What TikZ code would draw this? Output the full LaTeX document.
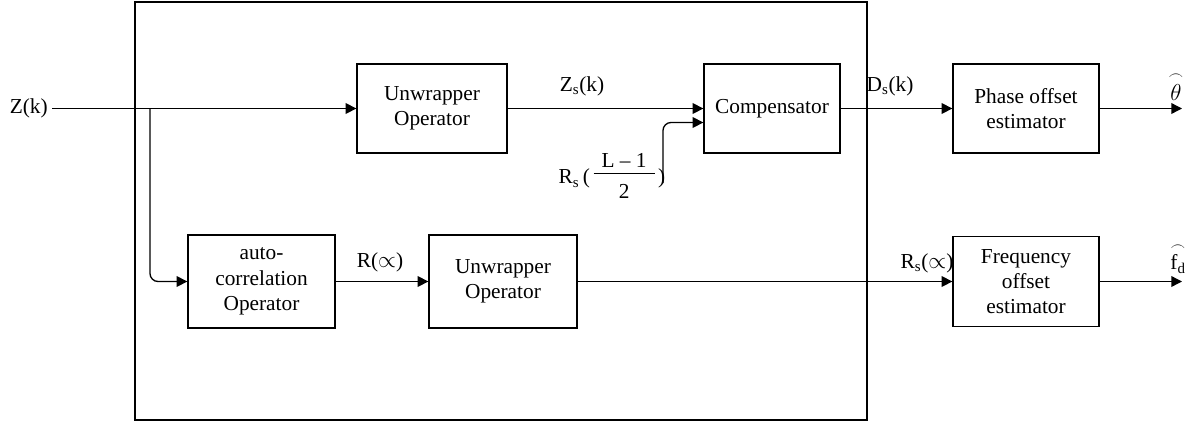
\documentclass[tikz,border=0pt]{standalone}
\usepackage{fontspec}
\setmainfont{Liberation Serif}
\usepackage{amsmath}
\usetikzlibrary{arrows.meta}
\begin{document}
\begin{tikzpicture}[x=0.75pt,y=-0.75pt,
  txt/.style={font=\fontsize{16}{19}\selectfont},
  blk/.style={draw, line width=1pt, align=center, txt, inner sep=2pt},
  lbl/.style={txt, inner sep=0pt},
  ln/.style={line width=1pt},
  arr/.style={line width=1pt, -{Triangle[length=8pt,width=8pt]}}]
\useasboundingbox (0,0) rectangle (1198,422);
% outer frame
\draw[ln] (135,2) rectangle (867,420);
% blocks
\node[blk, minimum width=112.5pt, minimum height=66.75pt] (unw1) at (432,108.5) {Unwrapper\\Operator};
\node[blk, minimum width=102pt, minimum height=66.75pt] (comp) at (772,108.5) {Compensator};
\node[blk, minimum width=109.5pt, minimum height=66.75pt] (phase) at (1026,108.5) {Phase offset\\estimator};
\node[blk, minimum width=110.25pt, minimum height=69.75pt] (auto) at (261.5,281.5) {auto-\\correlation\\Operator};
\node[blk, minimum width=111pt, minimum height=69.75pt] (unw2) at (503,281.5) {Unwrapper\\Operator};
\node[blk, minimum width=109.5pt, minimum height=67.5pt] (freq) at (1026,281.5) {Frequency\\offset\\estimator};
% input
\node[lbl, inner sep=3pt, anchor=east] (zk) at (52,108.5) {Z(k)};
\coordinate (br) at (150,108.5);
\draw[arr] (zk.east) -- (unw1.west);
\draw[arr, rounded corners=6pt] (br) |- (auto.west);
% top path
\draw[arr] (unw1.east) -- (comp.west);
\node[lbl] (zs) at (582,86) {Z\textsubscript{s}(k)};
\node[lbl] (rs) at (612,178) {R\textsubscript{s}\,(\,$\vcenter{\hbox{\begin{tabular}{@{\hspace{6pt}}c@{\hspace{6pt}}}L – 1\\[-2pt]\hline\rule{0pt}{19pt}2\end{tabular}}}$\,)};
\coordinate (rsend) at (663,183);
\draw[arr, rounded corners=6pt] (rsend) |- ([yshift=-10.5pt]comp.west);
\draw[arr] (comp.east) -- (phase.west);
\node[lbl] (ds) at (890,86) {D\textsubscript{s}(k)};
\coordinate (thout) at (1182,108.5);
\draw[arr] (phase.east) -- (thout);
\node[lbl] (th) at (1176,86) {$\overset{\frown}{\theta}$};
% bottom path
\draw[arr] (auto.east) -- (unw2.west);
\node[lbl] (ra) at (380,262) {R($\propto$)};
\draw[arr] (unw2.east) -- (freq.west);
\node[lbl] (rsa) at (927,263) {R\textsubscript{s}($\propto$)};
\coordinate (fdout) at (1182,281.5);
\draw[arr] (freq.east) -- (fdout);
\node[lbl] (fd) at (1178,258) {$\overset{\frown}{\textrm{f}_{\textrm{d}}}$};
\end{tikzpicture}
\end{document}
